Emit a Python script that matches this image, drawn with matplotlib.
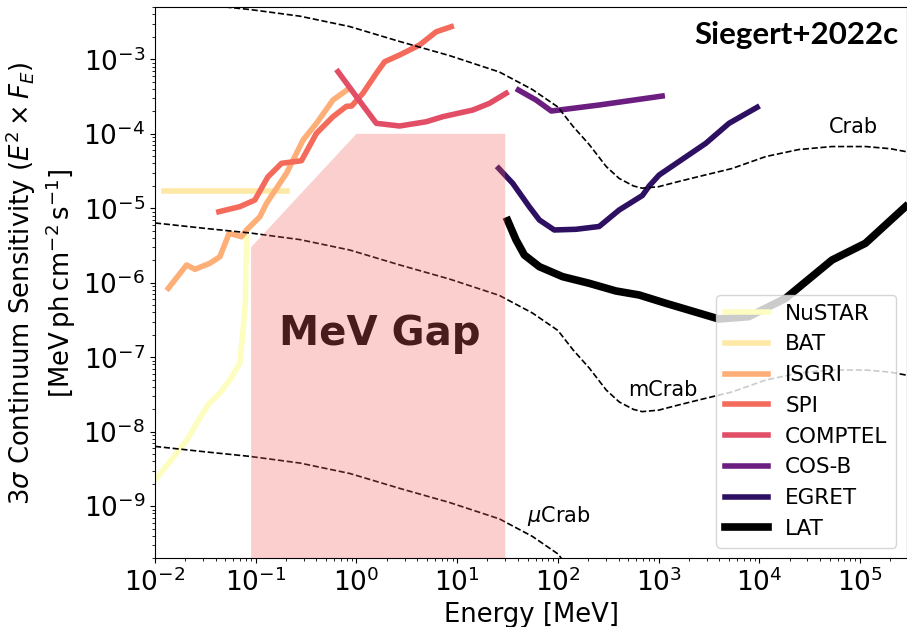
import matplotlib
matplotlib.use("Agg")
import matplotlib.pyplot as plt
import numpy as np

# Crab spectrum (E^2 F_E) [MeV, MeV ph cm^-2 s^-1]
crab_energy = 10 ** np.array([-2.0, -1.5, -1.058, -0.563, -0.067, 0.428, 0.924, 1.419, 1.746,
                              2.0, 2.15, 2.311, 2.48, 2.609, 2.75, 2.837, 3.0, 3.2, 3.401,
                              3.728, 4.065, 4.392, 4.72, 5.057, 5.3, 5.5])
crab_flux = 10 ** np.array([-2.197, -2.27, -2.331, -2.42, -2.56, -2.76, -2.95, -3.17, -3.405,
                            -3.64, -3.90, -4.144, -4.44, -4.60, -4.70, -4.73, -4.71, -4.64, -4.573,
                            -4.466, -4.305, -4.211, -4.171, -4.171, -4.20, -4.25])

# instrument sensitivities (log10 energy, log10 sensitivity)
nustar_logE = [-2.0, -1.822, -1.683, -1.554, -1.475, -1.356, -1.257, -1.158, -1.128, -1.101, -1.098, -1.088]
nustar_logS = [-8.647, -8.352, -8.11, -7.815, -7.64, -7.48, -7.305, -7.077, -6.674, -6.231, -5.829, -5.386]

bat_logE = [-1.911, -0.688]
bat_logS = [-4.764, -4.764]

isgri_logE = [-1.868, -1.686, -1.604, -1.455, -1.356, -1.264, -1.141, -1.091, -0.959, -0.893,
              -0.695, -0.629, -0.530, -0.397, -0.233, -0.067]
isgri_logS = [-6.074, -5.761, -5.819, -5.738, -5.650, -5.336, -5.381, -5.291, -5.113, -4.933,
              -4.530, -4.352, -4.083, -3.859, -3.546, -3.385]

spi_logE = [-1.366, -1.158, -1.009, -0.880, -0.744, -0.546, -0.397, -0.233, -0.100, -0.048,
            0.064, 0.197, 0.280, 0.428, 0.626, 0.792, 0.941]
spi_logS = [-5.046, -4.978, -4.889, -4.580, -4.396, -4.361, -3.993, -3.770, -3.631, -3.627,
            -3.456, -3.188, -3.032, -2.942, -2.808, -2.630, -2.562]

comptel_logE = [-0.183, 0.002, 0.197, 0.428, 0.693, 0.857, 1.155, 1.320, 1.486]
comptel_logS = [-3.166, -3.506, -3.859, -3.895, -3.838, -3.770, -3.681, -3.591, -3.456]

cosb_logE = [1.608, 1.783, 1.935, 2.410, 3.035]
cosb_logS = [-3.412, -3.546, -3.694, -3.613, -3.493]

egret_logE = [1.412, 1.551, 1.716, 1.816, 1.964, 2.179, 2.410, 2.608, 2.839, 2.906, 3.005,
              3.468, 3.699, 3.978]
egret_logS = [-4.463, -4.664, -4.979, -5.157, -5.291, -5.282, -5.244, -5.023, -4.828, -4.701,
              -4.553, -4.128, -3.859, -3.644]

lat_logE = [1.502, 1.585, 1.667, 1.816, 2.047, 2.311, 2.576, 2.807, 3.071, 3.597, 3.894,
            4.258, 4.722, 5.053, 5.450]
lat_logS = [-5.166, -5.426, -5.627, -5.784, -5.918, -6.007, -6.110, -6.164, -6.275, -6.486,
            -6.455, -6.211, -5.694, -5.470, -4.979]

instruments = ['NuSTAR', 'BAT', 'ISGRI', 'SPI', 'COMPTEL', 'COS-B', 'EGRET', 'LAT']
curves = [(nustar_logE, nustar_logS), (bat_logE, bat_logS), (isgri_logE, isgri_logS),
          (spi_logE, spi_logS), (comptel_logE, comptel_logS), (cosb_logE, cosb_logS),
          (egret_logE, egret_logS), (lat_logE, lat_logS)]
colors = ['#fcfdbf', '#fde8a5', '#feae77', '#f46b5c', '#e24e66', '#6c1d80', '#2e1062', '#000000']

# MeV gap region
gap_energy = [0.09, 0.09, 1.0, 30.0, 30.0]
gap_flux = [1e-11, 3e-6, 1e-4, 1e-4, 1e-11]

fig = plt.figure(figsize=(9.07, 6.27), dpi=100)
ax = fig.add_axes([0.1709, 0.1096, 0.8291, 0.8788])

for (lx, ly), name, c in zip(curves, instruments, colors):
    lw = 5.5 if name == 'LAT' else 4
    ax.plot(10 ** np.array(lx), 10 ** np.array(ly), color=c, lw=lw, label=name, zorder=2)

# Crab, mCrab, uCrab reference spectra
for scale in [1, 1e-3, 1e-6]:
    ax.plot(crab_energy, crab_flux * scale, 'k--', lw=1.2, zorder=2)

ax.text(8.65e4, 1.23e-4, 'Crab', fontsize=15, ha='center', va='center')
ax.text(1.11e3, 3.64e-8, 'mCrab', fontsize=15, ha='center', va='center')
ax.text(1.01e2, 7.4e-10, r'$\mu$Crab', fontsize=15, ha='center', va='center')

ax.text(1.70, 2.05e-7, 'MeV Gap', fontsize=29, fontweight='bold', color='black',
        ha='center', va='center', zorder=2)
ax.fill(gap_energy, gap_flux, color='#f1605d', alpha=0.3, lw=0, zorder=3)

ax.text(0.988, 0.95, 'Siegert+2022c', transform=ax.transAxes, fontsize=22.5,
        fontweight='bold', family='Lato', ha='right', va='center')

ax.set_xscale('log')
ax.set_yscale('log')
ax.set_xlim(1e-2, 10 ** 5.466)
ax.set_ylim(2e-10, 5e-3)

ax.set_xlabel('Energy [MeV]', fontsize=18.6)
ax.set_ylabel('3$\\sigma$ Continuum Sensitivity ($E^2 \\times F_E$)\n'
              '[$\\mathrm{MeV\\,ph\\,cm^{-2}\\,s^{-1}}$]', fontsize=18.6)
ax.tick_params(axis='both', which='major', labelsize=19)

ax.legend(loc='lower right', fontsize=15.5, handlelength=2.0)

fig.savefig('out.png', dpi=100)
